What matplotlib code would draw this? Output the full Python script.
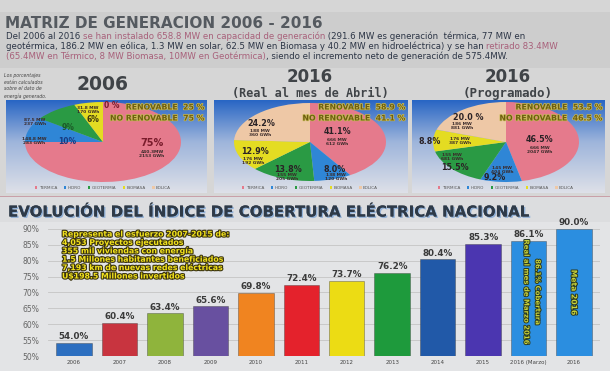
import numpy as np
import matplotlib
matplotlib.use("Agg")
from matplotlib import pyplot as plt
from matplotlib import patheffects as pe
from matplotlib.patches import Rectangle

W, H = 610, 371

# ---- datos matriz de generacion ----
fuentes = ['TERMICA', 'HIDRO', 'GEOTERMIA', 'BIOMASA', 'EOLICA']
colores_fuente = ['#e57a8c', '#2f86d6', '#2a9a44', '#e4dc22', '#eec8a6']
pct_2006 = [75, 10, 9, 6, 0]
pct_2016_real = [41.1, 8.0, 13.8, 12.9, 24.2]
pct_2016_prog = [46.5, 9.2, 15.5, 8.8, 20.0]
renovable = [25, 58.9, 53.5]
no_renovable = [75, 41.1, 46.5]
txt_pct_2006 = ['75%', '10%', '9%', '6%', '0 %']
txt_mw_2006 = ['440.3MW\n2153 GWh', '148.8 MW\n283 GWh', '87.5 MW\n237 GWh', '31.8 MW\n170 GWh', '']
txt_pct_real = ['41.1%', '8.0%', '13.8%', '12.9%', '24.2%']
txt_mw_real = ['666 MW\n612 GWh', '138 MW\n120 GWh', '155 MW\n205 GWh', '176 MW\n192 GWh', '188 MW\n360 GWh']
txt_pct_prog = ['46.5%', '9.2%', '15.5%', '8.8%', '20.0 %']
txt_mw_prog = ['666 MW\n2047 GWh', '145 MW\n404 GWh', '155 MW\n681 GWh', '176 MW\n387 GWh', '186 MW\n881 GWh']

# ---- datos cobertura electrica ----
anios = ['2006', '2007', '2008', '2009', '2010', '2011', '2012', '2013',
         '2014', '2015', '2016 (Marzo)', '2016']
cobertura = [54.0, 60.4, 63.4, 65.6, 69.8, 72.4, 73.7, 76.2, 80.4, 85.3, 86.1, 90.0]
colores_barra = ['#2d6fc0', '#c8343f', '#8fb43c', '#6850a0', '#f08420', '#e4222c',
                 '#ecdc14', '#1e9a3c', '#2159a8', '#4b36b0', '#2b8ee0', '#2b8ee0']
esfuerzo = ['Representa el esfuerzo 2007-2015 de:',
            '4,053 Proyectos ejecutados',
            '355 mil viviendas con energía',
            '1.5 Millones habitantes beneficiados',
            '7,193 km de nuevas redes eléctricas',
            'U$198.5 Millones invertidos']

fig = plt.figure(figsize=(6.1, 3.71), dpi=100)
fig.patch.set_facecolor('#d6d6d6')

# fondo en coordenadas de pixel
bg = fig.add_axes([0, 0, 1, 1], zorder=0)
bg.axis('off')
bg.add_patch(Rectangle((0, 12), W, 56, color='#cdcdcd', lw=0))
bg.add_patch(Rectangle((0, 197), W, H - 197, color='#dcdddf', lw=0))
bg.add_patch(Rectangle((0, 196), W, 1.2, color='#c9a0a8', lw=0))
bg.add_patch(Rectangle((0, 222), W, H - 222, color='#e3e4e6', lw=0))

paneles = [(6, 207), (214, 408), (412, 605)]
top_c = np.array([0.16, 0.40, 0.77])
mid_c = np.array([0.62, 0.71, 0.86])
bot_c = np.array([0.87, 0.88, 0.91])
t = np.linspace(0, 1, 100)[:, None]
grad = np.where(t < 0.45, top_c + (mid_c - top_c) * (t / 0.45),
                mid_c + (bot_c - mid_c) * ((t - 0.45) / 0.55))
grad = np.repeat(grad[:, None, :], 2, axis=1)
for x0, x1 in paneles:
    bg.imshow(grad, extent=(x0, x1, 193, 100), origin='upper', aspect='auto', zorder=1)
bg.set_xlim(0, W)
bg.set_ylim(H, 0)

# capa de textos
ov = fig.add_axes([0, 0, 1, 1], zorder=5)
ov.patch.set_alpha(0)
ov.axis('off')
ov.set_xlim(0, W)
ov.set_ylim(H, 0)

ov.text(5, 24, 'MATRIZ DE GENERACION 2006 - 2016', fontsize=11, fontweight='bold',
        color='#555a60', va='center', ha='left')

oscuro = '#2b3445'
rosa = '#a8607a'
lineas = [
    [('Del 2006 al 2016 ', oscuro), ('se han instalado 658.8 MW en capacidad de generación', rosa),
     (' (291.6 MW es generación  térmica, 77 MW en', oscuro)],
    [('geotérmica, 186.2 MW en eólica, 1.3 MW en solar, 62.5 MW en Biomasa y 40.2 MW en hidroeléctrica) y se han ', oscuro),
     ('retirado 83.4MW', rosa)],
    [('(65.4MW en Térmico, 8 MW Biomasa, 10MW en Geotérmica)', rosa),
     (', siendo el incremento neto de generación de 575.4MW.', oscuro)],
]
for k, partes in enumerate(lineas):
    txt = ov.text(6, 41 + k * 10, partes[0][0], color=partes[0][1], fontsize=6.2, va='bottom')
    for s, c in partes[1:]:
        txt = ov.annotate(s, xy=(1, 0), xycoords=txt, va='bottom', ha='left', color=c, fontsize=6.2)

for k, s in enumerate(['Los porcentajes', 'están calculados', 'sobre el dato de', 'energía generado.']):
    ov.text(4, 75 + k * 7, s, fontsize=3.3, color='#444444', va='center', style='italic')

# titulos de los pasteles
ov.text(103, 85, '2006', fontsize=13.5, fontweight='bold', color='#404448', ha='center', va='center')
ov.text(310, 77, '2016', fontsize=12, fontweight='bold', color='#404448', ha='center', va='center')
ov.text(310, 94, '(Real al mes de Abril)', fontsize=8.5, family='DejaVu Sans Mono', fontweight='bold',
        color='#404448', ha='center', va='center')
ov.text(508, 77, '2016', fontsize=12, fontweight='bold', color='#404448', ha='center', va='center')
ov.text(508, 94, '(Programado)', fontsize=9, family='DejaVu Sans Mono', fontweight='bold',
        color='#404448', ha='center', va='center')

# pasteles (centro x, centro y, semieje x, semieje y)
pasteles = [
    (pct_2006, txt_pct_2006, txt_mw_2006, (103, 142, 78, 40)),
    (pct_2016_real, txt_pct_real, txt_mw_real, (310, 142, 76, 39)),
    (pct_2016_prog, txt_pct_prog, txt_mw_prog, (506, 142, 73, 40)),
]
pos_pct = [
    [(152, 143), (67, 142), (68, 127), (93, 120), (112, 105)],
    [(337, 132), (335, 169), (288, 169), (255, 152), (261, 123)],
    [(540, 140), (495, 178), (455, 168), (430, 142), (468, 117)],
]
pos_mw = [
    [(152, 154), (34, 141), (35, 122), (88, 110), None],
    [(337, 142), (336, 177), (287, 177), (253, 161), (260, 133)],
    [(540, 150), (502, 170), (452, 157), (460, 141), (462, 126)],
]
size_pct = [[7, 5.5, 5.5, 5.5, 5.5], [5.8] * 5, [5.8] * 5]
col_pct = [['#7a1c2c', '#183a80', '#1c5a28', '#3a3410', '#7a1c2c'],
           ['#2a2226'] * 5, ['#2a2226'] * 5]
gold = [pe.withStroke(linewidth=1.0, foreground='#c8bb58')]
for i, (vals, tp, tm, (cx, cy, rx, ry)) in enumerate(pasteles):
    ax = fig.add_axes([(cx - rx) / W, 1 - (cy + ry) / H, 2 * rx / W, 2 * ry / H], zorder=2)
    wedges, _ = ax.pie(vals, colors=colores_fuente, startangle=90, counterclock=False,
                       radius=1, wedgeprops=dict(linewidth=0))
    ax.set_xlim(-1, 1)
    ax.set_ylim(-1, 1)
    ax.set_aspect('auto')
    ax.legend(wedges, fuentes, loc='center', bbox_to_anchor=(cx, 188), bbox_transform=ov.transData,
              ncol=5, fontsize=3, frameon=False, handlelength=0.6, handleheight=0.6,
              handletextpad=0.3, columnspacing=1.6, labelcolor='#555555')
    for j in range(5):
        x, y = pos_pct[i][j]
        ov.text(x, y, tp[j], fontsize=size_pct[i][j], fontweight='bold', color=col_pct[i][j],
                ha='center', va='center')
        if pos_mw[i][j] is not None:
            x, y = pos_mw[i][j]
            ov.text(x, y, tm[j], fontsize=3.2, fontweight='bold', color='#3a2a2a',
                    ha='center', va='center', linespacing=1.1)
    xr = paneles[i][1] - 3
    ov.text(xr, 107, 'RENOVABLE  %s %%' % renovable[i], fontsize=5.6, fontweight='bold',
            color='#6e5e10', ha='right', va='center', path_effects=gold)
    ov.text(xr, 118, 'NO RENOVABLE  %s %%' % no_renovable[i], fontsize=5.6, fontweight='bold',
            color='#6e5e10', ha='right', va='center', path_effects=gold)

# ---- evolucion del indice de cobertura ----
ov.text(8, 212, 'EVOLUCIÓN DEL ÍNDICE DE COBERTURA ELÉCTRICA NACIONAL', fontsize=10.8,
        fontweight='bold', color='#2e3a48', ha='left', va='center',
        path_effects=[pe.withSimplePatchShadow(offset=(1, -1), shadow_rgbFace='#7fa6d6', alpha=0.8),
                      pe.Normal()])

bax = fig.add_axes([48 / W, 1 - 356 / H, 552 / W, 127 / H], zorder=3)
bax.patch.set_alpha(0)
x = np.arange(len(anios))
bax.bar(x, cobertura, width=0.78, color=colores_barra, edgecolor='#33333380', linewidth=0.5, zorder=2)
bax.set_ylim(50, 90)
bax.set_xlim(-0.57, len(anios) - 0.43)
bax.set_yticks(range(50, 95, 5))
bax.set_yticklabels(['%d%%' % v for v in range(50, 95, 5)], fontsize=5.5, color='#666666')
bax.set_xticks(x)
bax.set_xticklabels(anios, fontsize=4, color='#444444')
bax.tick_params(length=0, pad=6)
bax.tick_params(axis='x', pad=3)
bax.grid(axis='y', color='#c4c4c4', linewidth=0.6, zorder=0)
for s in bax.spines.values():
    s.set_visible(False)
for xi, v in zip(x, cobertura):
    bax.text(xi, v + 0.6, '%.1f%%' % v, fontsize=6.3, fontweight='bold', color='#3a3a3a',
             ha='center', va='bottom')

borde = [pe.withStroke(linewidth=1.6, foreground='#3b3410')]
for k, s in enumerate(esfuerzo):
    ov.text(62, 234 + k * 8.4, s, fontsize=5.6, fontweight='bold', color='#f2e21c',
            ha='left', va='center', path_effects=borde)

verde = '#c8d23a'
borde2 = [pe.withStroke(linewidth=1.4, foreground='#2a3a20')]
bax.text(10.2, 70, '86.1% Cobertura', rotation=-90, fontsize=5, fontweight='bold', color=verde,
         ha='center', va='center', path_effects=borde2)
bax.text(9.95, 70, 'Real al mes de Marzo 2016', rotation=-90, fontsize=5, fontweight='bold',
         color=verde, ha='center', va='center', path_effects=borde2)
bax.text(11, 70, 'Meta 2016', rotation=-90, fontsize=5.5, fontweight='bold', color=verde,
         ha='center', va='center', path_effects=borde2)

fig.savefig('out.png', dpi=100, facecolor=fig.get_facecolor())
